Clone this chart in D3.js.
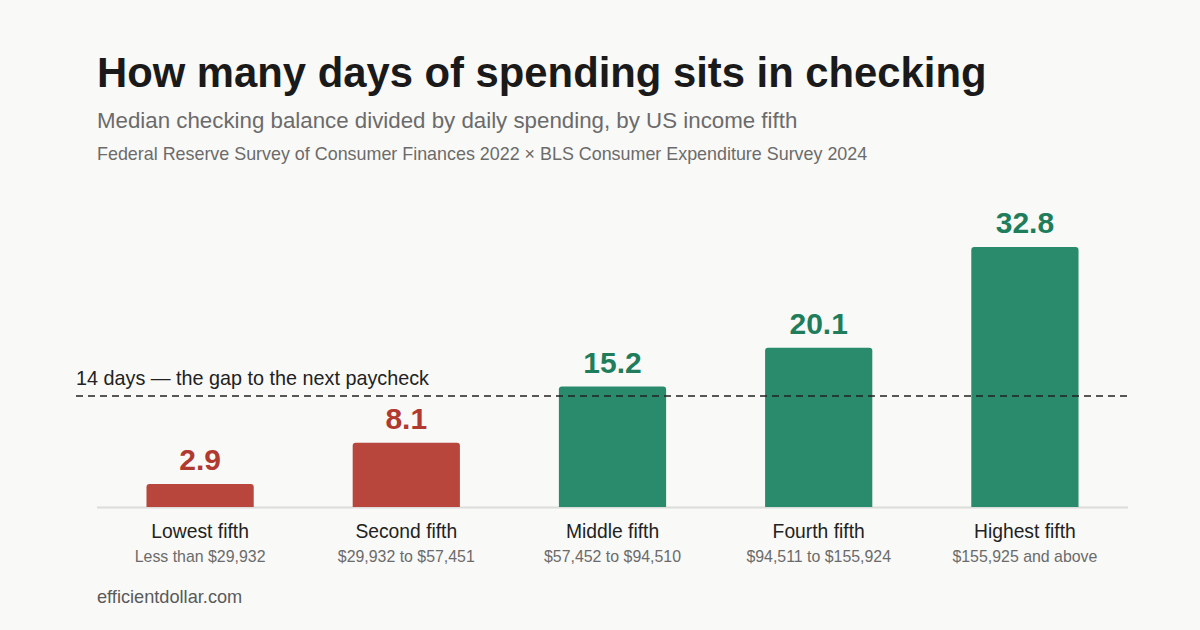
<!DOCTYPE html>
<html><head><meta charset="utf-8">
<script src="https://cdn.jsdelivr.net/npm/d3@7"></script>
<style>
html,body{margin:0;padding:0;background:#f9f9f7;}
svg{display:block;font-family:"Liberation Sans",Arial,Helvetica,sans-serif;}
</style></head>
<body>
<svg id="chart" width="1200" height="630"></svg>
<script>
const categories = ["Lowest fifth","Second fifth","Middle fifth","Fourth fifth","Highest fifth"];
const ranges = ["Less than $29,932","$29,932 to $57,451","$57,452 to $94,510","$94,511 to $155,924","$155,925 and above"];
const values = [2.9, 8.1, 15.2, 20.1, 32.8];
const threshold = 14;
const thresholdLabel = "14 days — the gap to the next paycheck";

const svg = d3.select("#chart");
svg.append("rect").attr("width",1200).attr("height",630).attr("fill","#f9f9f7");

svg.append("text").attr("x",97).attr("y",87).attr("font-size",41.8).attr("font-weight",700)
  .attr("fill","#1a1a1a").text("How many days of spending sits in checking");
svg.append("text").attr("x",97).attr("y",128).attr("font-size",22.3).attr("fill","#6b6b6b")
  .text("Median checking balance divided by daily spending, by US income fifth");
svg.append("text").attr("x",97).attr("y",160).attr("font-size",17.9).attr("fill","#6b6b6b")
  .text("Federal Reserve Survey of Consumer Finances 2022 × BLS Consumer Expenditure Survey 2024");

const x = d3.scaleBand().domain(categories).range([97,1128]).paddingInner(0.48).paddingOuter(0.24);
const y = d3.scaleLinear().domain([0, 32.8]).range([507, 247]);

const red = "#b8463d", green = "#2a8b6c";
const redText = "#b03a30", greenText = "#1f7d5c";
const col = v => v < threshold ? red : green;
const tcol = v => v < threshold ? redText : greenText;

// baseline
svg.append("line").attr("x1",97).attr("x2",1128).attr("y1",y(0)+0.5).attr("y2",y(0)+0.5)
  .attr("stroke","#dcdcda").attr("stroke-width",2);

const data = categories.map((c,i)=>({c, r:ranges[i], v:values[i]}));

svg.append("g").selectAll("path").data(data).join("path")
  .attr("fill", d=>col(d.v))
  .attr("d", d=>{
    const x0=x(d.c), w=x.bandwidth(), y0=y(d.v), y1=y(0), r=3;
    return `M${x0},${y1}V${y0+r}Q${x0},${y0} ${x0+r},${y0}H${x0+w-r}Q${x0+w},${y0} ${x0+w},${y0+r}V${y1}Z`;
  });

svg.append("g").selectAll("text").data(data).join("text")
  .attr("x", d=>x(d.c)+x.bandwidth()/2).attr("y", d=>y(d.v)-14)
  .attr("text-anchor","middle").attr("font-size",30).attr("font-weight",700)
  .attr("fill", d=>tcol(d.v)).text(d=>d.v.toFixed(1));

// threshold
svg.append("line").attr("x1",76).attr("x2",1128).attr("y1",y(threshold)).attr("y2",y(threshold))
  .attr("stroke","#222").attr("stroke-width",1.5).attr("stroke-dasharray","7,5");
svg.append("text").attr("x",76).attr("y",y(threshold)-11).attr("font-size",19.8).attr("fill","#222")
  .text(thresholdLabel);

// category labels
const g = svg.append("g");
g.selectAll("text.cat").data(data).join("text").attr("class","cat")
  .attr("x", d=>x(d.c)+x.bandwidth()/2).attr("y",538).attr("text-anchor","middle")
  .attr("font-size",19.3).attr("fill","#222").text(d=>d.c);
g.selectAll("text.rng").data(data).join("text").attr("class","rng")
  .attr("x", d=>x(d.c)+x.bandwidth()/2).attr("y",562).attr("text-anchor","middle")
  .attr("font-size",15.9).attr("fill","#6b6b6b").text(d=>d.r);

svg.append("text").attr("x",97).attr("y",603).attr("font-size",18.2).attr("fill","#5a5a5a")
  .text("efficientdollar.com");
</script>
</body></html>
